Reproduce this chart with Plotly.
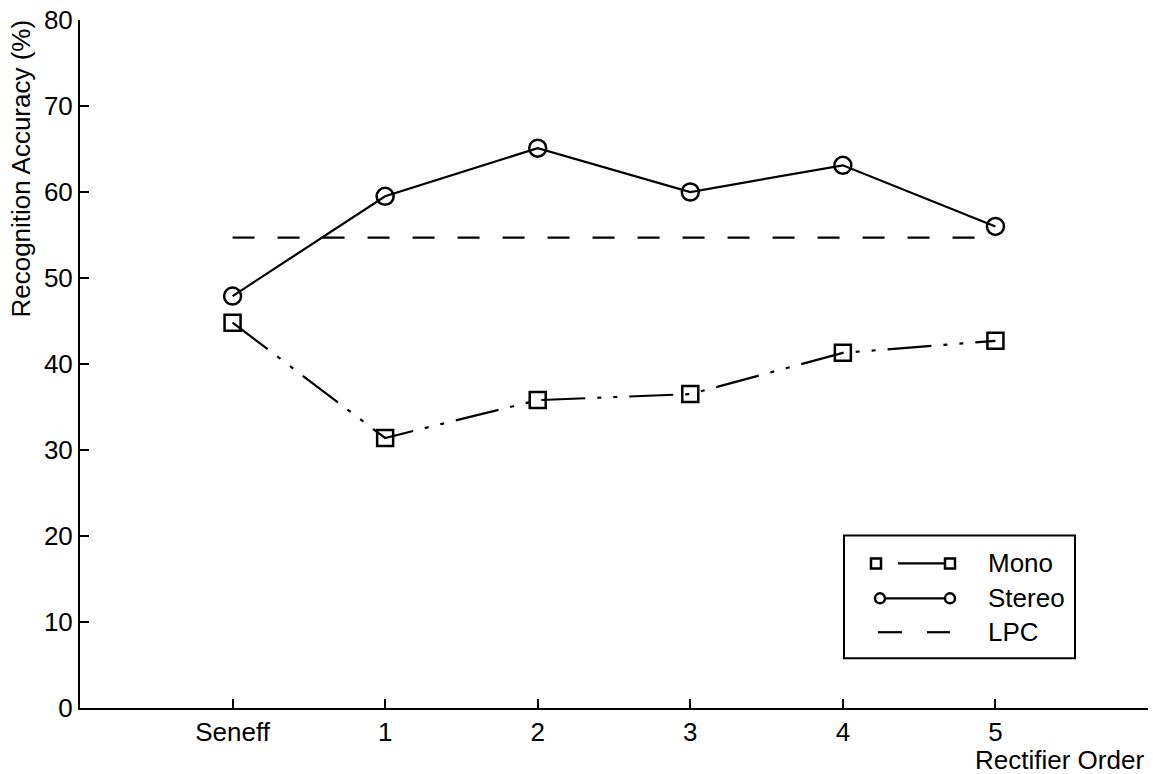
import plotly.graph_objects as go

# --- data -------------------------------------------------------------
categories = ["Seneff", "1", "2", "3", "4", "5"]
mono = [44.8, 31.4, 35.8, 36.5, 41.3, 42.7]
stereo = [47.9, 59.5, 65.1, 60.0, 63.1, 56.0]
lpc_level = 54.7
y_ticks = [0, 10, 20, 30, 40, 50, 60, 70, 80]

FONT = "Liberation Sans, Arial, Helvetica, sans-serif"
FS = 26
INK = "black"

x_pos = list(range(len(categories)))

fig = go.Figure()

# LPC reference level spanning all rectifier settings
fig.add_trace(go.Scatter(
    x=[x_pos[0], x_pos[-1]], y=[lpc_level, lpc_level],
    mode="lines", name="LPC",
    line=dict(color=INK, width=2.2, dash="22px,23px"),
))

fig.add_trace(go.Scatter(
    x=x_pos, y=mono, mode="lines+markers", name="Mono",
    line=dict(color=INK, width=2.2, dash="44px,12px,4px,12px,4px,12px"),
    marker=dict(symbol="square-open", size=16, color=INK, line=dict(width=2.5, color=INK)),
))

fig.add_trace(go.Scatter(
    x=x_pos, y=stereo, mode="lines+markers", name="Stereo",
    line=dict(color=INK, width=2.2),
    marker=dict(symbol="circle-open", size=17, color=INK, line=dict(width=2.5, color=INK)),
))

# --- plot frame geometry (pixels) -------------------------------------
W, H = 1153, 774
ML, MR, MT, MB = 80, 5, 18, 66
PW, PH = W - ML - MR, H - MT - MB


def px(xp):
    return (xp - ML) / PW


def py(yp):
    return (H - MB - yp) / PH


# --- hand-drawn legend box --------------------------------------------
shapes = []
shapes.append(dict(type="rect", xref="paper", yref="paper",
                   x0=px(844), x1=px(1075), y0=py(658), y1=py(535),
                   line=dict(color=INK, width=2), fillcolor="white", layer="above"))

annotations = []
rows = [("Mono", 563), ("Stereo", 598), ("LPC", 632)]
for label, yy in rows:
    annotations.append(dict(text=label, xref="paper", yref="paper",
                            x=px(986), y=py(yy), xanchor="left", yanchor="middle",
                            showarrow=False, font=dict(family=FONT, size=FS, color=INK)))

# Mono key: square, line, square
y_m = 563
shapes.append(dict(type="line", xref="paper", yref="paper", x0=px(898), x1=px(944),
                   y0=py(y_m), y1=py(y_m), line=dict(color=INK, width=2.2), layer="above"))
for cx in (876, 950):
    shapes.append(dict(type="rect", xref="paper", yref="paper",
                       x0=px(cx - 5), x1=px(cx + 5), y0=py(y_m + 5), y1=py(y_m - 5),
                       line=dict(color=INK, width=2.5), layer="above"))

# Stereo key: circle, line, circle
y_s = 598
shapes.append(dict(type="line", xref="paper", yref="paper", x0=px(880), x1=px(950),
                   y0=py(y_s), y1=py(y_s), line=dict(color=INK, width=2.2), layer="above"))
for cx in (880, 950):
    shapes.append(dict(type="circle", xref="paper", yref="paper",
                       x0=px(cx - 5), x1=px(cx + 5), y0=py(y_s + 5), y1=py(y_s - 5),
                       line=dict(color=INK, width=2.5), fillcolor="white", layer="above"))

# LPC key: two dashes
y_l = 632
for a, b in ((878, 902), (927, 950)):
    shapes.append(dict(type="line", xref="paper", yref="paper", x0=px(a), x1=px(b),
                       y0=py(y_l), y1=py(y_l), line=dict(color=INK, width=2.2), layer="above"))

# --- axis titles ------------------------------------------------------
annotations.append(dict(text="Recognition Accuracy (%)", xref="paper", yref="paper",
                        x=px(21), y=py(167), xanchor="center", yanchor="middle",
                        textangle=-90, showarrow=False,
                        font=dict(family=FONT, size=FS, color=INK)))
annotations.append(dict(text="Rectifier Order", xref="paper", yref="paper",
                        x=px(1146), y=py(760), xanchor="right", yanchor="middle",
                        showarrow=False, font=dict(family=FONT, size=FS, color=INK)))

fig.update_layout(
    width=W, height=H,
    margin=dict(l=ML, r=MR, t=MT, b=MB, pad=0),
    plot_bgcolor="white", paper_bgcolor="white",
    showlegend=False,
    font=dict(family=FONT, size=FS, color=INK),
    shapes=shapes, annotations=annotations,
    xaxis=dict(
        range=[-1, 6], tickmode="array", tickvals=x_pos, ticktext=categories,
        showgrid=False, zeroline=False, showline=True, linecolor=INK, linewidth=2,
        ticks="inside", ticklen=9, tickwidth=2, tickcolor=INK,
        tickfont=dict(family=FONT, size=FS, color=INK),
    ),
    yaxis=dict(
        range=[0, 80], tickmode="array", tickvals=y_ticks,
        showgrid=False, zeroline=False, showline=True, linecolor=INK, linewidth=2,
        ticks="inside", ticklen=9, tickwidth=2, tickcolor=INK,
        tickfont=dict(family=FONT, size=FS, color=INK),
    ),
)

fig.write_html("out.html")
